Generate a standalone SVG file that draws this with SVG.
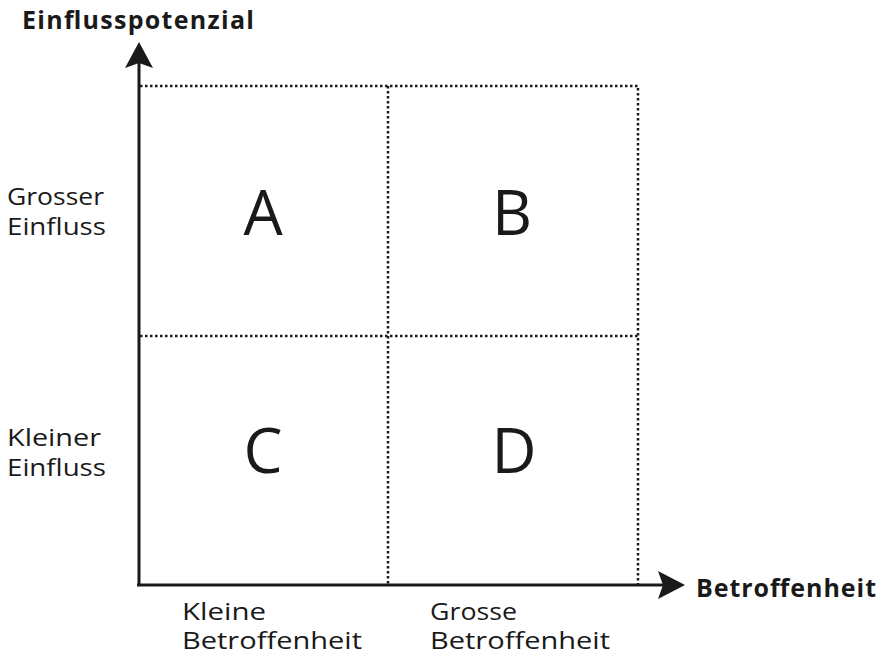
<svg xmlns="http://www.w3.org/2000/svg" width="887" height="656" viewBox="0 0 887 656">
<style>
.t{font-family:"Open Sans","Noto Sans","Liberation Sans",sans-serif;fill:#1a1a1a}
.b{font-weight:bold;font-size:25px}
.l{font-size:23px}
.big{font-size:62px;text-anchor:middle}
.dot{stroke:#1a1a1a;stroke-width:2.5;stroke-dasharray:2.5 2.5;fill:none}
.ax{stroke:#1a1a1a;stroke-width:3;fill:none}
</style>
<rect width="887" height="656" fill="#fff"/>
<g id="grid">
<path class="dot" d="M140 86H638V585M388 86V585M140 336H638"/>
</g>
<g id="connectors">
<path class="ax" d="M139 586V62M137 585H664"/>
<polygon points="139,42 125,68 139,63 153,68" fill="#1a1a1a"/>
<polygon points="685,585 658,571 663,585 658,599" fill="#1a1a1a"/>
</g>
<g id="axis-labels">
<text class="t b" x="22" y="29" textLength="232">Einflusspotenzial</text>
<text class="t b" x="696" y="597" textLength="180">Betroffenheit</text>
</g>
<g id="row-labels">
<text class="t l" x="7" y="205" textLength="97" lengthAdjust="spacingAndGlyphs">Grosser</text>
<text class="t l" x="7" y="235" textLength="99" lengthAdjust="spacingAndGlyphs">Einfluss</text>
<text class="t l" x="7" y="446" textLength="94" lengthAdjust="spacingAndGlyphs">Kleiner</text>
<text class="t l" x="7" y="476" textLength="99" lengthAdjust="spacingAndGlyphs">Einfluss</text>
</g>
<g id="col-labels">
<text class="t l" x="182" y="620" textLength="84" lengthAdjust="spacingAndGlyphs">Kleine</text>
<text class="t l" x="182" y="649" textLength="180" lengthAdjust="spacingAndGlyphs">Betroffenheit</text>
<text class="t l" x="430" y="620" textLength="87" lengthAdjust="spacingAndGlyphs">Grosse</text>
<text class="t l" x="430" y="649" textLength="180" lengthAdjust="spacingAndGlyphs">Betroffenheit</text>
</g>
<g id="A"><text class="t big" x="263" y="235">A</text></g>
<g id="B"><text class="t big" x="512" y="235">B</text></g>
<g id="C"><text class="t big" x="263" y="473">C</text></g>
<g id="D"><text class="t big" x="514" y="473">D</text></g>
</svg>
